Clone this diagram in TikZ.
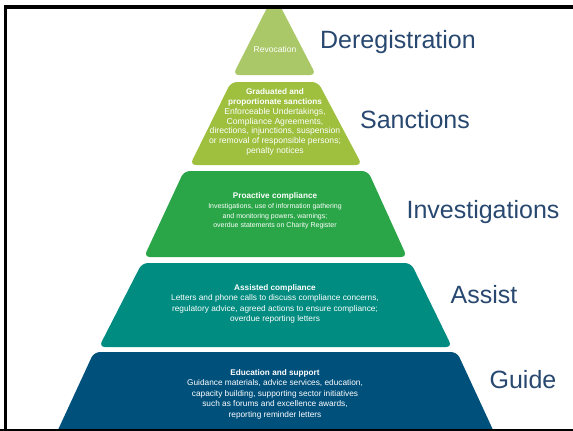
\documentclass[tikz,border=0pt]{standalone}
\usepackage{fontspec}
\setmainfont{Liberation Sans}
\usepackage{xcolor}
\usepackage{tikz}

\definecolor{revoc}{RGB}{170,200,104}
\definecolor{sanct}{RGB}{158,192,62}
\definecolor{proact}{RGB}{42,166,72}
\definecolor{assisted}{RGB}{0,140,128}
\definecolor{educ}{RGB}{0,80,124}
\definecolor{tierblue}{RGB}{40,72,112}

\tikzset{
	tiertext/.style={text=white,align=center,font=\fontsize{8.3}{10.5}\selectfont},
	tiername/.style={text=tierblue,font=\fontsize{25}{28}\selectfont},
	tier/.style={rounded corners=6pt},
}
\newcommand{\tierhead}[1]{{\fontsize{8.2}{10}\selectfont\bfseries #1}}

\begin{document}
\begin{tikzpicture}[x=1pt,y=-1pt]
			\useasboundingbox (0,0) rectangle (573,431);
			\begin{scope}
			\clip (0,6) rectangle (573,431);
			% pyramid, top to bottom
			\fill[revoc,tier] (274,-6) -- (316,75) -- (233,75) -- cycle;
			\fill[sanct,tier] (231,82) -- (318,82) -- (362,165) -- (190,165) -- cycle;
			\fill[proact,tier] (184,171) -- (368,171) -- (407,257) -- (144,257) -- cycle;
			\fill[assisted,tier] (142,263) -- (411,263) -- (452,347) -- (99,347) -- cycle;
			\fill[educ,tier] (94,352) -- (457,352) -- (500,445) -- (51,445) -- cycle;
			\end{scope}
			
			% texts in the tiers
			\node[tiertext,font=\fontsize{8.5}{10}\selectfont] (revocation) at (275,49) {Revocation};
			\node[tiertext,font=\fontsize{8.6}{9.7}\selectfont] (sanctions) at (275,122) {\tierhead{Graduated and}\\\tierhead{proportionate sanctions}\\Enforceable Undertakings,\\Compliance Agreements,\\directions, injunctions, suspension\\or removal of responsible persons;\\penalty notices};
			\node[tiertext,font=\fontsize{7}{9.8}\selectfont] (proactive) at (275,211) {\tierhead{Proactive compliance}\\Investigations, use of information gathering\\and monitoring powers, warnings;\\overdue statements on Charity Register};
			\node[tiertext] (assistedc) at (275,304) {\tierhead{Assisted compliance}\\Letters and phone calls to discuss compliance concerns,\\regulatory advice, agreed actions to ensure compliance;\\overdue reporting letters};
			\node[tiertext] (education) at (275,394) {\tierhead{Education and support}\\Guidance materials, advice services, education,\\capacity building, supporting sector initiatives\\such as forums and excellence awards,\\reporting reminder letters};
			
			% names of the tiers
			\node[tiername] (dereg) at (398,42) {Deregistration};
			\node[tiername] (sanct) at (415,120) {Sanctions};
			\node[tiername] (invest) at (483,212) {Investigations};
			\node[tiername] (assist) at (484,295) {Assist};
			\node[tiername] (guide) at (523,380) {Guide};
			
			% frame
			\fill (4.3,5) rectangle (7.3,431);
			\fill (4.3,5) rectangle (573,9);
			\fill (0,429) rectangle (573,431);
		\end{tikzpicture}
\end{document}
